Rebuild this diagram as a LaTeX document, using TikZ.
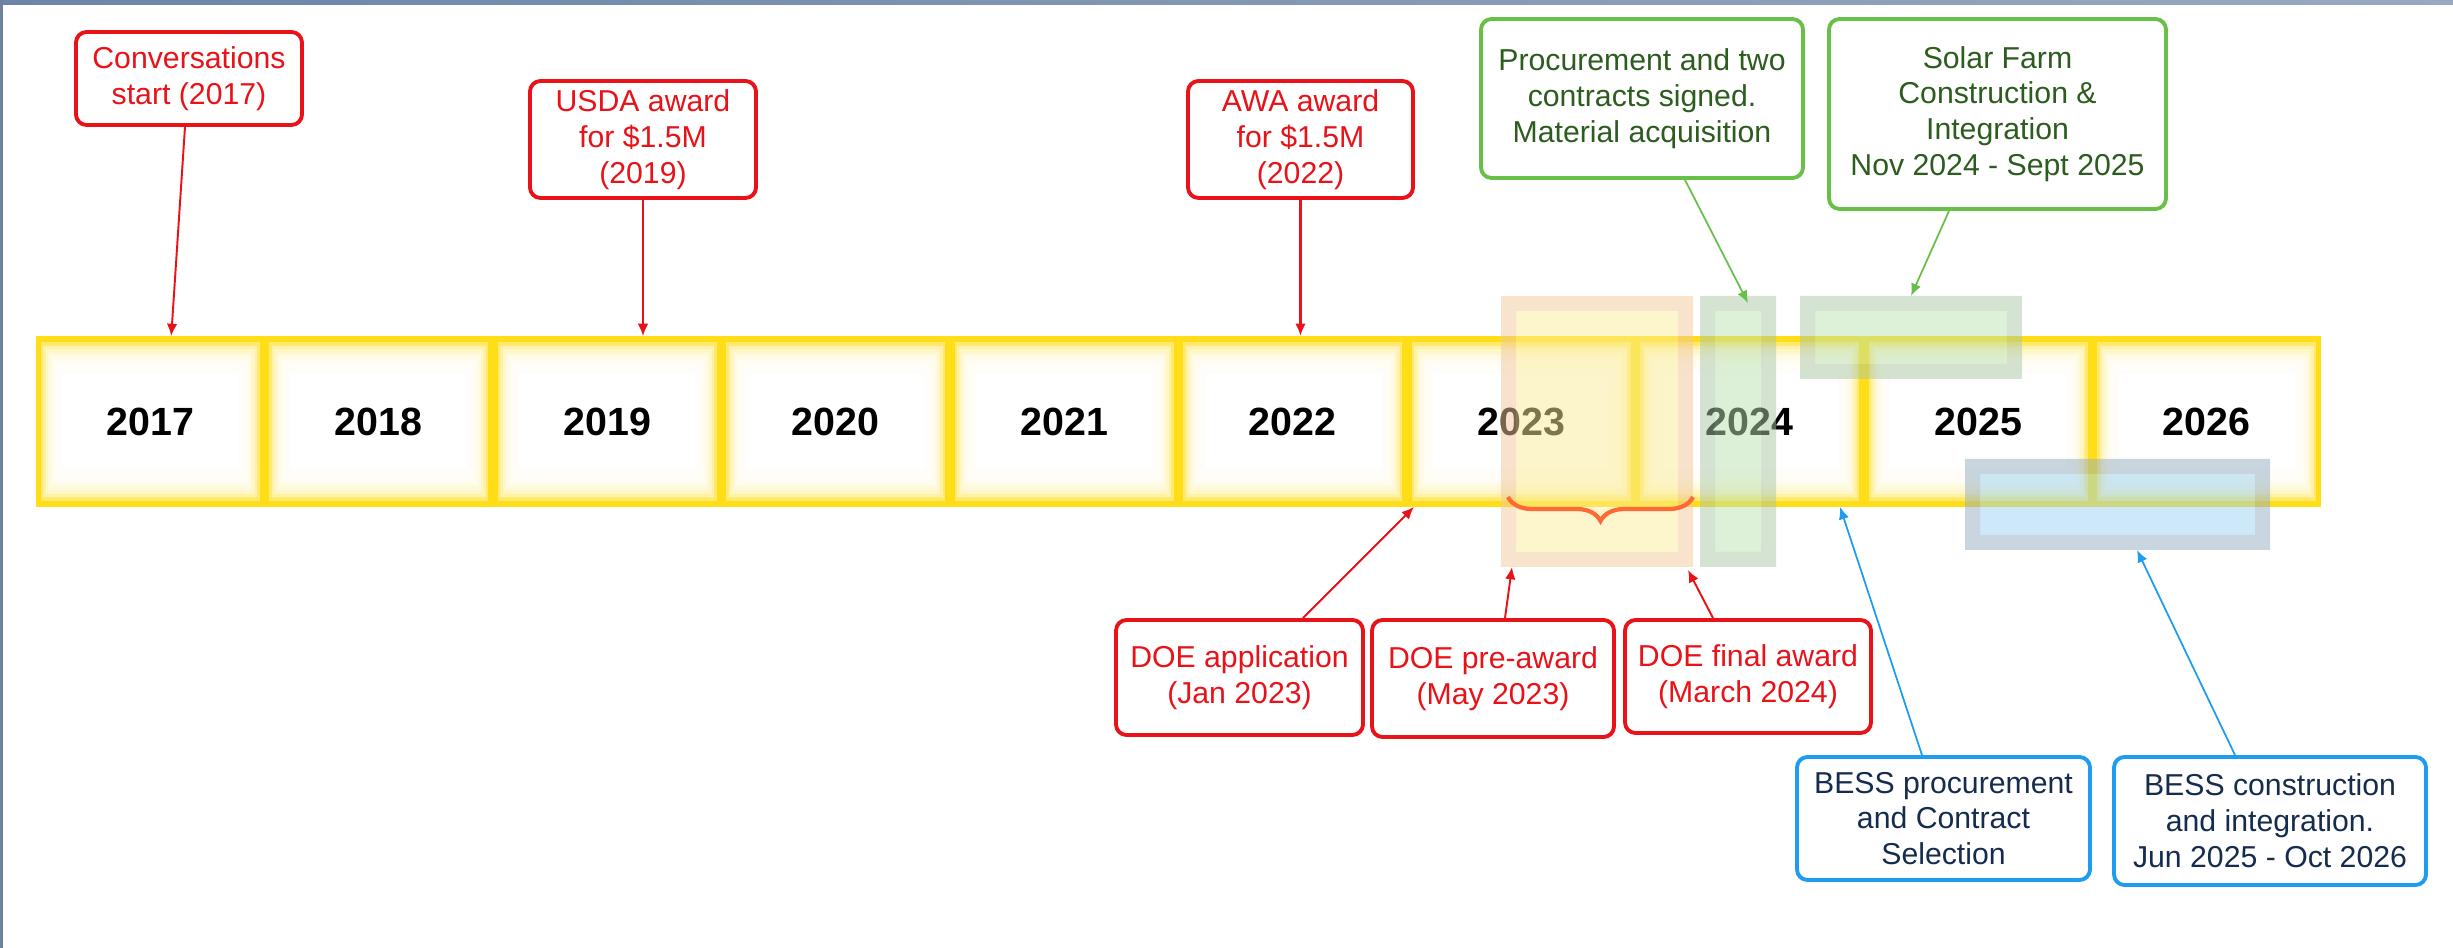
\documentclass[tikz,border=0pt]{standalone}
\usepackage{fontspec}
\setmainfont{Liberation Sans}
\usepackage{tikz}
\usetikzlibrary{calc}
\usetikzlibrary{arrows.meta}
\usetikzlibrary{decorations.pathreplacing}
\definecolor{alizarin}{RGB}{232, 18, 24}
\definecolor{emerald}{RGB}{104, 192, 72}
\definecolor{forest}{RGB}{44, 92, 30}
\definecolor{peterriver}{RGB}{30, 156, 240}
\definecolor{midnight}{RGB}{22, 44, 78}
\definecolor{sunflower}{RGB}{255, 222, 23}
\definecolor{carrot}{RGB}{255, 105, 55}
\definecolor{slate}{RGB}{108, 132, 166}
\definecolor{peach}{RGB}{241, 199, 153}
\definecolor{cream}{RGB}{251, 237, 153}
\definecolor{sage}{RGB}{171, 199, 167}
\definecolor{mint}{RGB}{187, 225, 177}
\definecolor{steel}{RGB}{147, 173, 193}
\definecolor{sky}{RGB}{155, 209, 241}

\tikzset{
    yearbox/.style={draw=sunflower, line width=1.4pt, fill=sunflower, inner sep=0pt,
        minimum width=2.236cm, minimum height=1.66cm,
        font=\fontsize{11.2}{13}\selectfont\bfseries,
        path picture={\foreach \k in {1,...,9}
            \fill[white, fill opacity=0.38]
                ([shift={(\k*0.024,\k*0.036)}]path picture bounding box.south west) rectangle
                ([shift={(-\k*0.024,-\k*0.036)}]path picture bounding box.north east);
            \fill[white]
                ([shift={(0.24,0.36)}]path picture bounding box.south west) rectangle
                ([shift={(-0.24,-0.36)}]path picture bounding box.north east);}},
    highlight/.style 2 args={inner sep=0pt, outer sep=0pt, fill=white, fill opacity=0,
        path picture={
            \fill[#1, fill opacity=0.5, even odd rule]
                (path picture bounding box.south west) rectangle (path picture bounding box.north east)
                ([shift={(0.15,0.15)}]path picture bounding box.south west) rectangle
                ([shift={(-0.15,-0.15)}]path picture bounding box.north east);
            \fill[#2, fill opacity=0.5]
                ([shift={(0.15,0.15)}]path picture bounding box.south west) rectangle
                ([shift={(-0.15,-0.15)}]path picture bounding box.north east);}},
    callout/.style={line width=1.1pt, rounded corners=3pt, fill=white, align=center,
        inner sep=2pt, font=\fontsize{8.6}{10.2}\selectfont},
    redbox/.style={callout, draw=alizarin, text=alizarin},
    greenbox/.style={callout, draw=emerald, text=forest},
    bluebox/.style={callout, draw=peterriver, text=midnight},
    redarrow/.style={alizarin, line width=0.55pt, -{Latex[length=3.5pt, width=3pt]}},
    greenarrow/.style={emerald, line width=0.5pt, -{Latex[length=3.5pt, width=3pt]}},
    bluearrow/.style={peterriver, line width=0.5pt, -{Latex[length=3.5pt, width=3pt]}},
}

\begin{document}
\begin{tikzpicture}
    \useasboundingbox (0, 0) rectangle (24.53, -9.48);
    % Frame
    \fill[left color=slate, right color=slate!70]          (0.00, 0.00) rectangle (24.53,-0.05);
    \fill[slate!80!gray]                                   (0.00, 0.00) rectangle ( 0.03,-9.48);

    % Year boxes
    \foreach \yr [count=\i from 0] in {2017,...,2026}
        \node[yearbox] (y\yr) at ({1.5025 + \i*2.285}, -4.215) {\yr};

    % Highlights
    \node[highlight={peach}{cream}, minimum width=1.92cm, minimum height=2.71cm] (hl2023)  at (15.970,-4.315) {};
    \node[highlight={sage}{mint},   minimum width=0.76cm, minimum height=2.71cm] (hl2024)  at (17.380,-4.315) {};
    \node[highlight={sage}{mint},   minimum width=2.22cm, minimum height=0.83cm] (hlsolar) at (19.110,-3.375) {};
    \node[highlight={steel}{sky},   minimum width=3.05cm, minimum height=0.91cm] (hlbess)  at (21.175,-5.045) {};
    \draw[carrot, line width=1.2pt, decorate, decoration={brace, mirror, amplitude=0.24cm}]
        (15.08,-4.97) -- (16.93,-4.97);

    % Callouts above
    \node[redbox,   minimum width=2.26cm, minimum height=0.93cm] (conv)  at ( 1.890,-0.785) {Conversations\\start (2017)};
    \node[redbox,   minimum width=2.26cm, minimum height=1.17cm] (usda)  at ( 6.430,-1.395) {USDA award\\for \$1.5M\\(2019)};
    \node[redbox,   minimum width=2.25cm, minimum height=1.17cm] (awa)   at (13.005,-1.395) {AWA award\\for \$1.5M\\(2022)};
    \node[greenbox, minimum width=3.22cm, minimum height=1.59cm] (proc)  at (16.420,-0.985) {Procurement and two\\contracts signed.\\Material acquisition};
    \node[greenbox, minimum width=3.37cm, minimum height=1.90cm] (solar) at (19.975,-1.140) {Solar Farm\\Construction \&\\Integration\\Nov 2024 - Sept 2025};

    % Callouts below
    \node[redbox,   minimum width=2.47cm, minimum height=1.15cm] (doeapp)   at (12.395,-6.775) {DOE application\\(Jan 2023)};
    \node[redbox,   minimum width=2.42cm, minimum height=1.17cm] (doepre)   at (14.930,-6.785) {DOE pre-award\\(May 2023)};
    \node[redbox,   minimum width=2.46cm, minimum height=1.13cm] (doefinal) at (17.480,-6.765) {DOE final award\\(March 2024)};
    \node[bluebox,  minimum width=2.93cm, minimum height=1.23cm] (bessproc) at (19.435,-8.185) {BESS procurement\\and Contract\\Selection};
    \node[bluebox,  minimum width=3.12cm, minimum height=1.28cm] (besscon)  at (22.700,-8.210) {BESS construction\\and integration.\\Jun 2025 - Oct 2026};

    % Connectors
    \draw[redarrow]                     ([xshift=-0.04cm]conv.south)      -- ([xshift=0.21cm]y2017.north);
    \draw[redarrow]                     (usda.south)                      -- (usda.south |- y2019.north);
    \draw[redarrow, line width=0.95pt]  (awa.south)                       -- (awa.south |- y2022.north);
    \draw[redarrow]                     ([xshift=0.635cm]doeapp.north)    -- ([xshift=0.07cm]y2023.south west);
    \draw[redarrow]                     ([xshift=0.12cm]doepre.north)     -- ([xshift=-0.85cm]hl2023.south);
    \draw[redarrow]                     ([xshift=-0.35cm]doefinal.north)  -- ([xshift=-0.05cm,yshift=-0.03cm]hl2023.south east);
    \draw[greenarrow]                   ([xshift=0.43cm]proc.south)       -- ([xshift=0.10cm,yshift=-0.07cm]hl2024.north);
    \draw[greenarrow]                   ([xshift=-0.485cm]solar.south)    -- (hlsolar.north);
    \draw[bluearrow]                    ([xshift=-0.215cm]bessproc.north) -- ([xshift=-0.24cm]y2024.south east);
    \draw[bluearrow]                    ([xshift=-0.35cm]besscon.north)   -- ([xshift=0.195cm]hlbess.south);
\end{tikzpicture}
\end{document}
